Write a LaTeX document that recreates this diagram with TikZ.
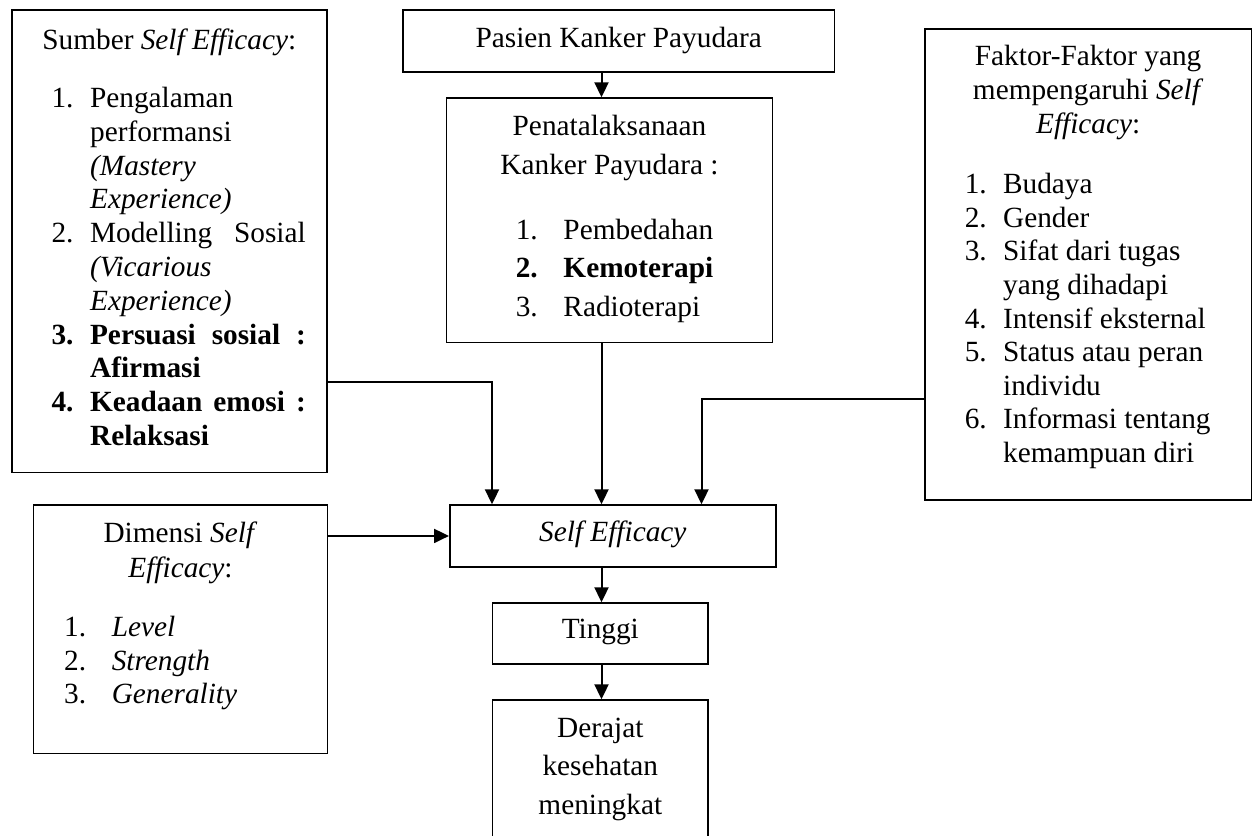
\documentclass[tikz,border=0pt]{standalone}
\usepackage{fontspec}
\setmainfont{Liberation Serif}
\usetikzlibrary{arrows.meta}

\newlength{\indenA}
\newlength{\indenB}
\newcommand{\atas}[1]{\rule{0pt}{#1}}
\newcommand{\judul}[1]{\par\noindent\makebox[\linewidth]{#1}}
\newcommand{\butir}[2]{\par\noindent\hspace*{\indenA}\makebox[\indenB][l]{#1}#2}
\newcommand{\lanjut}[1]{\par\noindent\hspace*{\indenA}\hspace*{\indenB}#1}
\newcommand{\isi}[3]{\begin{minipage}[c][#2][t]{#1}#3\par\end{minipage}}

\begin{document}
\begin{tikzpicture}[x=0.5pt, y=-0.5pt,
  kotak/.style={draw, line width=0.8pt, inner sep=0pt, anchor=north west,
    font=\fontsize{14.65pt}{16.9pt}\selectfont},
  panah/.style={-{Triangle[length=7.5pt,width=7pt]}, line width=1pt}]
  \useasboundingbox (0,0) rectangle (1256,835);
  \clip (0,0) rectangle (1256,835);

  \node[kotak] (sumber) at (11,9.3) {\isi{157.5pt}{231.2pt}{%
    \setlength{\indenA}{19.85pt}\setlength{\indenB}{19.3pt}\baselineskip=16.9pt
    \judul{\atas{19.5pt}Sumber \textit{Self Efficacy}:}
    \par\vspace{12.3pt}
    \butir{1.}{Pengalaman}
    \lanjut{performansi}
    \lanjut{\textit{(Mastery}}
    \lanjut{\textit{Experience)}}
    \butir{2.}{\makebox[107.85pt][s]{Modelling Sosial}}
    \lanjut{\textit{(Vicarious}}
    \lanjut{\textit{Experience)}}
    \butir{\textbf{3.}}{\textbf{\makebox[107.85pt][s]{Persuasi sosial :}}}
    \lanjut{\textbf{Afirmasi}}
    \butir{\textbf{4.}}{\textbf{\makebox[107.85pt][s]{Keadaan emosi :}}}
    \lanjut{\textbf{Relaksasi}}}};

  \node[kotak] (pasien) at (402.3,9.3) {\isi{215.65pt}{30.85pt}{%
    \judul{\atas{18.7pt}Pasien Kanker Payudara}}};

  \node[kotak] (penata) at (445.7,97.3) {\isi{163pt}{122.2pt}{%
    \setlength{\indenA}{34.65pt}\setlength{\indenB}{23.85pt}\baselineskip=19.2pt
    \judul{\atas{18.85pt}Penatalaksanaan}
    \judul{Kanker Payudara :}
    \par\vspace{13.3pt}
    \butir{1.}{Pembedahan}
    \butir{\textbf{2.}}{\textbf{Kemoterapi}}
    \butir{3.}{Radioterapi}}};

  \node[kotak] (faktor) at (924,28.3) {\isi{163.35pt}{235.35pt}{%
    \setlength{\indenA}{20pt}\setlength{\indenB}{19.15pt}\baselineskip=16.8pt
    \judul{\atas{18.35pt}Faktor-Faktor yang}
    \judul{mempengaruhi \textit{Self}}
    \judul{\textit{Efficacy}:}
    \par\vspace{13.5pt}
    \butir{1.}{Budaya}
    \butir{2.}{Gender}
    \butir{3.}{Sifat dari tugas}
    \lanjut{yang dihadapi}
    \butir{4.}{Intensif eksternal}
    \butir{5.}{Status atau peran}
    \lanjut{individu}
    \butir{6.}{Informasi tentang}
    \lanjut{kemampuan diri}}};

  \node[kotak] (dimensi) at (32.7,504.3) {\isi{147pt}{124.2pt}{%
    \setlength{\indenA}{15.3pt}\setlength{\indenB}{23.85pt}\baselineskip=17.5pt
    \judul{\atas{18.7pt}Dimensi \textit{Self}}
    \judul{\textit{Efficacy}:}
    \par\baselineskip=16.7pt\vspace{12.95pt}
    \butir{1.}{\textit{Level}}
    \butir{2.}{\textit{Strength}}
    \butir{3.}{\textit{Generality}}}};

  \node[kotak] (selfef) at (449,504.3) {\isi{163pt}{30.85pt}{%
    \judul{\atas{18.35pt}\textit{Self Efficacy}}}};

  \node[kotak] (tinggi) at (491.7,602.3) {\isi{107.8pt}{30.5pt}{%
    \judul{\atas{17.85pt}Tinggi}}};

  \node[kotak] (derajat) at (491.7,699.3) {\isi{107.8pt}{75pt}{%
    \baselineskip=19.15pt
    \judul{\atas{18.7pt}Derajat}
    \judul{kesehatan}
    \judul{meningkat}}};

  \coordinate (poros) at (601.5,0);
  \coordinate (kiri) at (492,381.7);
  \coordinate (kanan) at (701.5,399.3);

  \draw[panah] (pasien.south -| poros) -- (penata.north -| poros);
  \draw[panah] (penata.south -| poros) -- (selfef.north -| poros);
  \draw[panah] (sumber.east |- kiri) -| (kiri |- selfef.north);
  \draw[panah] (faktor.west |- kanan) -| (kanan |- selfef.north);
  \draw[panah] (dimensi.east |- selfef.west) -- (selfef.west);
  \draw[panah] (selfef.south -| poros) -- (tinggi.north -| poros);
  \draw[panah] (tinggi.south -| poros) -- (derajat.north -| poros);
\end{tikzpicture}
\end{document}
